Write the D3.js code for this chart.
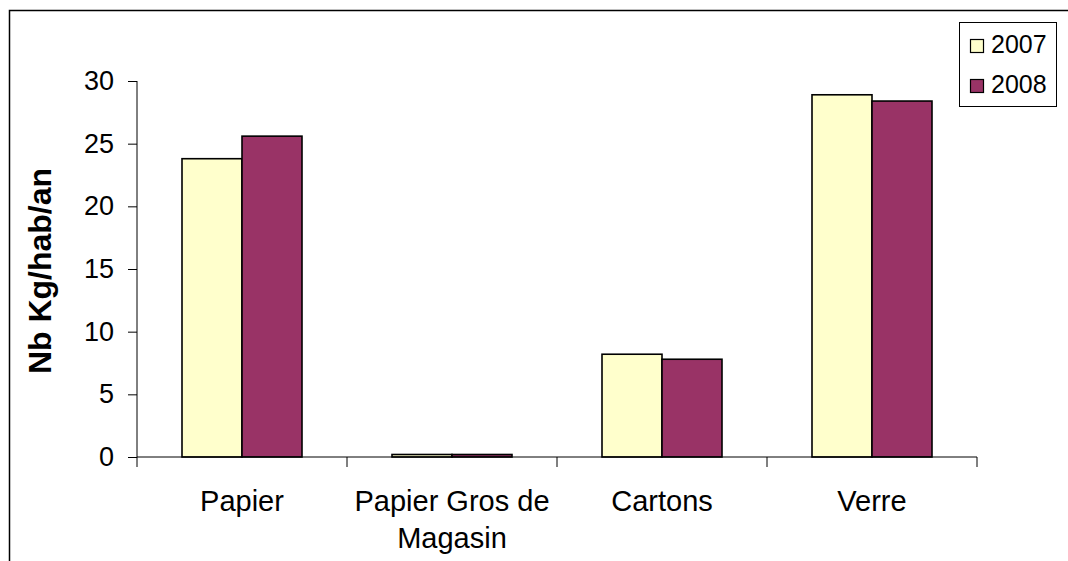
<!DOCTYPE html>
<html><head><meta charset="utf-8">
<script src="https://cdn.jsdelivr.net/npm/d3@7"></script>
<style>body{margin:0;background:#fff;} svg{display:block;font-family:"Liberation Sans",Arial,sans-serif;}</style>
</head><body>
<script>
const categories = ["Papier", "Papier Gros de Magasin", "Cartons", "Verre"];
const categoryLines = [["Papier"], ["Papier Gros de", "Magasin"], ["Cartons"], ["Verre"]];
const series = ["2007", "2008"];
const values2007 = [23.8, 0.2, 8.2, 28.9];
const values2008 = [25.6, 0.2, 7.8, 28.4];
const yTicks = [0, 5, 10, 15, 20, 25, 30];
const colors = ["#FFFFCC", "#993366"];

const W = 1068, H = 561;
const svg = d3.select("body").append("svg").attr("width", W).attr("height", H);

// outer frame
svg.append("rect").attr("x", 9.5).attr("y", 10.5).attr("width", 1200).attr("height", 700)
  .attr("fill", "none").attr("stroke", "#000").attr("stroke-width", 1.5);

const x0 = d3.scaleBand().domain(categories).range([137, 977]).padding(0);
const x1 = d3.scaleBand().domain(series).range([0, x0.bandwidth()]).paddingInner(0).paddingOuter(0.75);
const y = d3.scaleLinear().domain([0, 30]).range([457, 81]);

const data = categories.map((c, i) => ({c, v: [values2007[i], values2008[i]]}));

const g = svg.append("g");
data.forEach(d => {
  d.v.forEach((v, j) => {
    g.append("rect")
      .attr("x", x0(d.c) + x1(series[j]))
      .attr("y", y(v))
      .attr("width", x1.bandwidth())
      .attr("height", y(0) - y(v))
      .attr("fill", colors[j]).attr("stroke", "#000").attr("stroke-width", 1.6);
  });
});

// y axis
const yAxis = d3.axisLeft(y).tickValues(yTicks).tickSize(9).tickPadding(14);
const ya = svg.append("g").attr("transform", "translate(137,0)").call(yAxis);
ya.select(".domain").attr("stroke", "#000").attr("d", `M-0,${y(30)}V${y(0)}`);
ya.selectAll("text").attr("font-size", 27).attr("fill", "#000")
  .attr("font-family", "Liberation Sans, Arial, sans-serif");

// x axis
const xa = svg.append("g").attr("transform", `translate(0,${y(0)})`);
xa.append("line").attr("x1", 137).attr("x2", 977).attr("stroke", "#000");
const bounds = categories.map(c => x0(c)).concat([x0.range()[1]]);
xa.selectAll("line.tk").data(bounds).join("line").attr("class", "tk")
  .attr("x1", d => d).attr("x2", d => d).attr("y1", 0).attr("y2", 10).attr("stroke", "#000");
categoryLines.forEach((lines, i) => {
  const cx = x0(categories[i]) + x0.bandwidth() / 2;
  lines.forEach((t, k) => {
    xa.append("text").attr("x", cx).attr("y", 54 + k * 37).attr("text-anchor", "middle")
      .attr("font-size", 29).attr("fill", "#000").text(t);
  });
});

// y label
svg.append("text").attr("transform", `translate(51,${(y(0)+y(30))/2 + 2}) rotate(-90)`)
  .attr("text-anchor", "middle").attr("font-size", 32).attr("font-weight", "bold").text("Nb Kg/hab/an");

// legend
const lg = svg.append("g");
lg.append("rect").attr("x", 959.5).attr("y", 22.5).attr("width", 97).attr("height", 84)
  .attr("fill", "#fff").attr("stroke", "#000").attr("stroke-width", 1);
series.forEach((s, j) => {
  lg.append("rect").attr("x", 970.5).attr("y", 39.5 + j * 40).attr("width", 13).attr("height", 13)
    .attr("fill", colors[j]).attr("stroke", "#000").attr("stroke-width", 1.2);
  lg.append("text").attr("x", 991).attr("y", 53 + j * 40).attr("font-size", 25).attr("fill", "#000").text(s);
});
</script>
</body></html>
